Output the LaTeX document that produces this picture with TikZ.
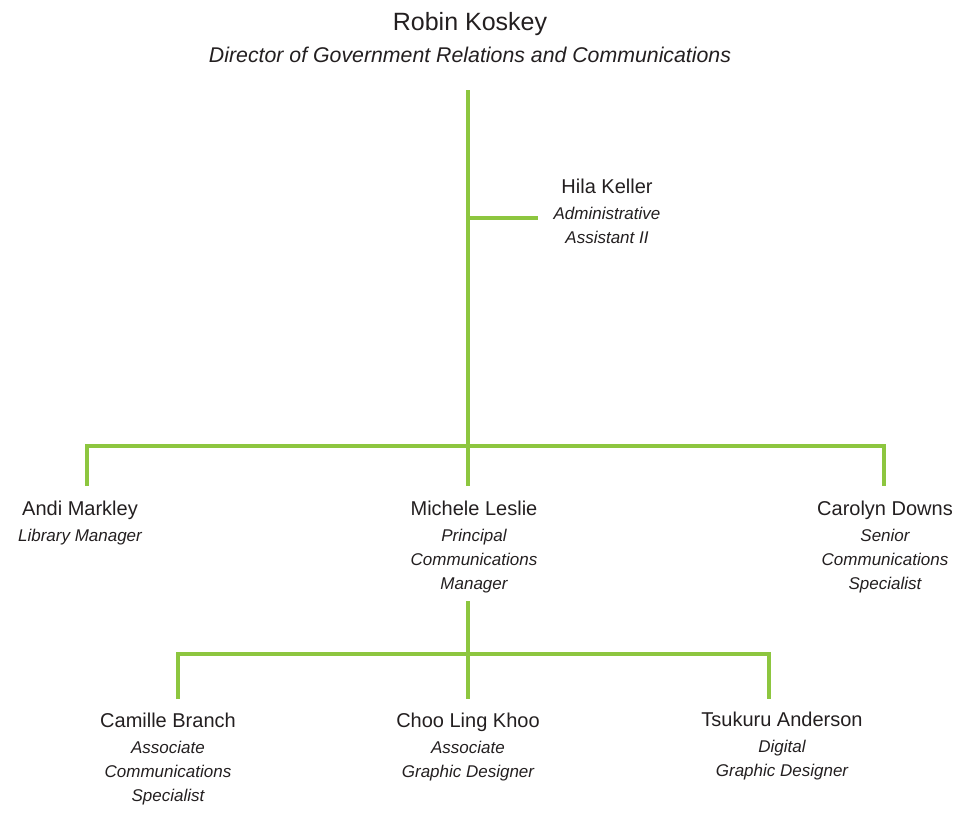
\documentclass[tikz,border=0pt]{standalone}
\usepackage{fontspec}
\setmainfont{Liberation Sans}
\usepackage{xcolor}
\usepackage{tikz}
\usetikzlibrary{
  positioning,
  calc,
}
\definecolor{leaf}{HTML}{8DC63F}
\definecolor{ink}{HTML}{231F20}
\tikzset{
  link/.style={
    draw=leaf,
    line width=4pt
  },
  person/.style={
    inner sep=0pt,
    text=ink,
    anchor=base,
    font=\fontsize{20}{24}\selectfont
  },
  title/.style={
    inner sep=0pt,
    text=ink,
    anchor=north,
    align=center,
    font=\fontsize{17}{24}\itshape\selectfont
  }
}

\begin{document}
\begin{tikzpicture}[x=1pt, y=-1pt]
  \useasboundingbox (0,0) rectangle (960,812);

  %% Director
  \node[person, font=\fontsize{25}{30}\selectfont] (robin) at (470,30) {Robin Koskey};
  \node[title, font=\fontsize{21.3}{26}\itshape\selectfont] (robin_t) at ([yshift=-17pt]robin.base) {Director of Government Relations and Communications};

  \coordinate (top) at (468,90);
  \coordinate (hila_j) at (468,218);
  \coordinate (hila_e) at (538,218);
  \coordinate (bar) at (468,446);

  %% Assistant
  \node[person] (hila) at (607,193) {Hila Keller};
  \node[title] (hila_t) at ([yshift=-13.5pt]hila.base) {Administrative\\Assistant II};

  %% Managers
  \node[person] (andi) at (80,515) {Andi Markley};
  \node[title] (andi_t) at ([yshift=-13.5pt]andi.base) {Library Manager};
  \node[person] (michele) at (474,515) {Michele Leslie};
  \node[title] (michele_t) at ([yshift=-13.5pt]michele.base) {Principal\\Communications\\Manager};
  \node[person] (carolyn) at (885,515) {Carolyn Downs};
  \node[title] (carolyn_t) at ([yshift=-13.5pt]carolyn.base) {Senior\\Communications\\Specialist};

  \coordinate (andi_j) at (87,486);
  \coordinate (carolyn_j) at (884,486);
  \coordinate (michele_j) at (468,486);
  \coordinate (low_top) at (468,601);
  \coordinate (low_bar) at (468,654);

  %% Staff
  \node[person] (camille) at (168,727) {Camille Branch};
  \node[title] (camille_t) at ([yshift=-13.5pt]camille.base) {Associate\\Communications\\Specialist};
  \node[person] (choo) at (468,727) {Choo Ling Khoo};
  \node[title] (choo_t) at ([yshift=-13.5pt]choo.base) {Associate\\Graphic Designer};
  \node[person] (tsukuru) at (782,726) {Tsukuru Anderson};
  \node[title] (tsukuru_t) at ([yshift=-13.5pt]tsukuru.base) {Digital\\Graphic Designer};

  \coordinate (camille_j) at (178,699);
  \coordinate (choo_j) at (468,699);
  \coordinate (tsukuru_j) at (769,699);

  \draw[link] (top) -- (michele_j);
  \draw[link] (hila_j) -- (hila_e);
  \draw[link] (andi_j) |- (bar) -| (carolyn_j);
  \draw[link] (low_top) -- (choo_j);
  \draw[link] (camille_j) |- (low_bar) -| (tsukuru_j);
\end{tikzpicture}
\end{document}
